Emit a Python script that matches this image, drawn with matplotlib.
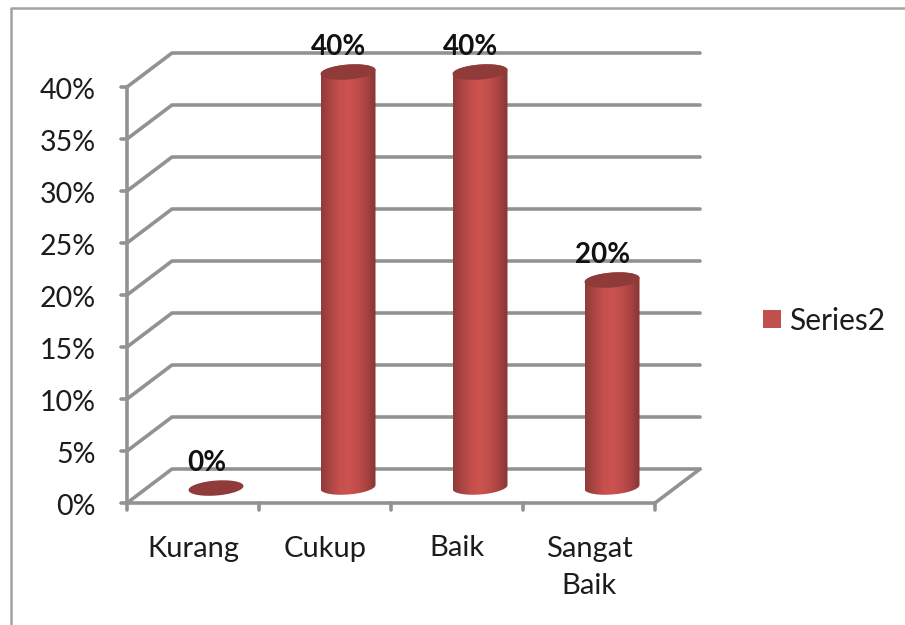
import numpy as np
import matplotlib
matplotlib.use("Agg")
import matplotlib.pyplot as plt
from matplotlib.patches import Polygon, Rectangle
from matplotlib.lines import Line2D
from matplotlib.colors import LinearSegmentedColormap

categories = ["Kurang", "Cukup", "Baik", "Sangat\nBaik"]
values = [0, 40, 40, 20]
y_ticks = [0, 5, 10, 15, 20, 25, 30, 35, 40]

W, H = 905, 625
plt.rcParams["font.family"] = ["Lato", "DejaVu Sans"]
fig = plt.figure(figsize=(W / 100, H / 100), dpi=100)
L, R, B, T = 127, 655, 503, 87
ax = fig.add_axes([L / W, 1 - B / H, (R - L) / W, (B - T) / H])
ax.set_xlim(-0.5, 3.5)
ax.set_ylim(0, 40)
ax.axis("off")
ux = (R - L) / 4
uy = (B - T) / 40
GRID = "#929292"
TEXT = "#1c1c1c"
DX, DY = 45, 34
kw = dict(color=GRID, lw=2.6, clip_on=False, solid_capstyle="round")

# walls and gridlines
for v in y_ticks:
    ax.plot([-0.5, -0.5 + DX / ux, 3.5 + DX / ux],
            [v, v + DY / uy, v + DY / uy], zorder=1, **kw)
ax.plot([3.5, 3.5 + DX / ux], [0, DY / uy], zorder=1, **kw)
ax.plot([-0.5, 3.5], [0, 0], zorder=1, **kw)
ax.plot([-0.5, -0.5], [0, 40], zorder=1, **kw)

# ticks
tx = 6 / ux
ty = 7 / uy
for v in y_ticks:
    ax.plot([-0.5 - tx, -0.5], [v, v], zorder=1, **kw)
    ax.text(-0.5 - 31 / ux, v - 4 / uy, f"{v}%", ha="right", va="center", fontsize=20.5, color=TEXT)
for i in range(5):
    ax.plot([-0.5 + i, -0.5 + i], [0, -ty], zorder=1, **kw)

for i, c in enumerate(categories):
    ax.text(i, -32.5 / uy, c, ha="center", va="top", fontsize=21, color=TEXT, linespacing=1.55)

# cylinders
cmap = LinearSegmentedColormap.from_list(
    "cyl", ["#8e3b39", "#ab4543", "#c54f4d", "#cc5350", "#c04d4b", "#a84341", "#853634"])
a, b, tilt = 27.5, 7.5, 2.0
t = np.linspace(0, 2 * np.pi, 80)
for i, v in enumerate(values):
    cx = i + 23 / ux
    y0 = 16 / uy
    ytop = v + y0 - 0.1
    ex = a * np.cos(t) / ux
    ey = (b * np.sin(t) + tilt * np.cos(t)) / uy
    if v > 0:
        t2 = np.linspace(np.pi, 2 * np.pi, 40)
        lx = a * np.cos(t2) / ux
        ly = (b * np.sin(t2) + tilt * np.cos(t2)) / uy
        t3 = np.linspace(0, np.pi, 40)
        ux3 = a * np.cos(t3) / ux
        uy3 = (b * np.sin(t3) + tilt * np.cos(t3)) / uy
        body = Polygon(np.column_stack([np.r_[cx + lx, cx + ux3],
                                        np.r_[y0 + ly, ytop + uy3]]),
                       closed=True, fc="none", ec="none", transform=ax.transData, clip_on=False)
        ax.add_patch(body)
        im = ax.imshow(np.linspace(0, 1, 256)[None, :], cmap=cmap, aspect="auto", zorder=3,
                       extent=[cx - a / ux, cx + a / ux, y0 - 9 / uy, ytop + 10 / uy])
        im.set_clip_box(fig.bbox)
        im.set_clip_path(body)
    ax.add_patch(Polygon(np.column_stack([cx + ex, ytop + ey]), closed=True,
                         fc="#8e3b3a", ec="none", zorder=4, clip_on=False))
    ax.text(i + 14 / ux, ytop + 25.5 / uy, f"{v}%", ha="center", va="center",
            fontsize=20, fontweight="bold", color="#111111", zorder=5, clip_on=False)
ax.set_xlim(-0.5, 3.5)
ax.set_ylim(0, 40)

# legend
fig.add_artist(Rectangle((763 / W, 1 - 328 / H), 18 / W, 18 / H, transform=fig.transFigure,
                         fc="#c0504d", ec="none"))
fig.text(789 / W, 1 - 321 / H, "Series2", va="center", ha="left", fontsize=21.5, color=TEXT)

# outer frame
BORDER = "#a3a3a3"
fig.add_artist(Line2D([11 / W, 11 / W, 1], [0, 1 - 8 / H, 1 - 8 / H], color=BORDER, lw=1.8,
                      transform=fig.transFigure))

fig.savefig("out.png", dpi=100)
